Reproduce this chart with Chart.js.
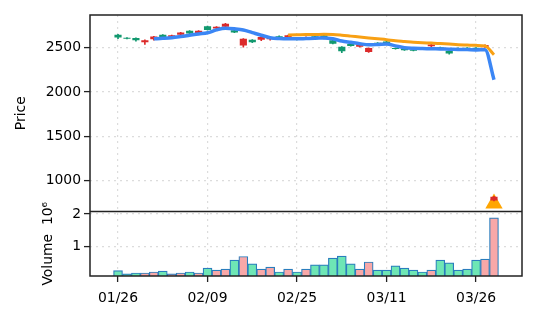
<!DOCTYPE html>
<html>
<head>
<meta charset="utf-8">
<script src="https://cdn.jsdelivr.net/npm/chart.js@4.4.1/dist/chart.umd.min.js"></script>
<style>
  html, body { margin: 0; padding: 0; background: #fff; }
</style>
</head>
<body>
<canvas id="chart" width="537" height="322"></canvas>
<script>
// daily OHLC, one entry per trading session
const opens  = [2615, 2600, 2585, 2585, 2625, 2610, 2640, 2670, 2660, 2690,
                2700, 2735, 2770, 2670, 2600, 2560, 2620, 2615, 2620, 2640,
                2590, 2620, 2595, 2600, 2545, 2460, 2520, 2535, 2495, 2535,
                2550, 2485, 2470, 2465, 2480, 2535, 2490, 2435, 2480, 2485,
                2470, 2530, 820];
const highs  = [2650, 2614, 2612, 2587, 2627, 2648, 2642, 2673, 2692, 2693,
                2742, 2738, 2774, 2697, 2602, 2592, 2622, 2617, 2632, 2643,
                2617, 2622, 2632, 2642, 2587, 2512, 2542, 2537, 2497, 2557,
                2572, 2497, 2487, 2480, 2497, 2537, 2507, 2463, 2497, 2502,
                2502, 2532, 825];
const lows   = [2600, 2598, 2572, 2538, 2585, 2608, 2618, 2643, 2658, 2662,
                2698, 2712, 2733, 2668, 2505, 2557, 2580, 2585, 2618, 2612,
                2588, 2597, 2592, 2598, 2542, 2445, 2518, 2507, 2447, 2532,
                2548, 2483, 2468, 2463, 2478, 2512, 2488, 2428, 2478, 2483,
                2468, 2502, 775];
const closes = [2645, 2612, 2610, 2560, 2595, 2645, 2620, 2645, 2690, 2665,
                2740, 2715, 2735, 2695, 2525, 2590, 2590, 2595, 2630, 2615,
                2615, 2600, 2630, 2640, 2585, 2510, 2540, 2510, 2450, 2555,
                2570, 2495, 2485, 2478, 2495, 2515, 2505, 2462, 2495, 2500,
                2500, 2505, 780];
const volumes = [250000, 150000, 180000, 180000, 210000, 240000, 150000, 180000, 210000, 180000,
                 330000, 270000, 300000, 580000, 690000, 460000, 300000, 360000, 210000, 300000,
                 210000, 300000, 430000, 430000, 640000, 700000, 460000, 300000, 520000, 270000,
                 270000, 400000, 330000, 270000, 210000, 270000, 580000, 490000, 270000, 300000,
                 580000, 610000, 1880000];

// moving averages (5 and 20 sessions)
const ma5  = [null, null, null, null, 2600, 2605, 2612, 2625, 2640, 2655,
              2668, 2700, 2718, 2712, 2700, 2670, 2640, 2612, 2603, 2600,
              2600, 2603, 2606, 2610, 2600, 2575, 2560, 2545, 2532, 2535,
              2540, 2520, 2500, 2493, 2490, 2488, 2485, 2483, 2480, 2478,
              2475, 2478, 2140];
const ma20 = [null, null, null, null, null, null, null, null, null, null,
              null, null, null, null, null, null, null, null, null, 2643,
              2645, 2647, 2648, 2650, 2648, 2640, 2630, 2620, 2610, 2600,
              2590, 2578, 2570, 2562, 2556, 2552, 2546, 2540, 2534, 2530,
              2526, 2520, 2420];

// signal marker
const signalIdx = 42;
const signalPrice = 745;

const tickPos = [0, 10, 20, 30, 40];
const tickLabels = ['01/26', '02/09', '02/25', '03/11', '03/26'];
const priceTicks = [1000, 1500, 2000, 2500];
const volTicks = [1000000, 2000000];

const UP = '#12996f', DOWN = '#dc2a2a';
const VOL_UP = '#6ee6b5', VOL_DOWN = '#f8a8a8';
const FONT = { family: 'DejaVu Sans', size: 13.9 };

const idx = closes.map((_, i) => i);
const candleColor = idx.map(i => closes[i] >= opens[i] ? UP : DOWN);
const volColor = idx.map(i => closes[i] >= opens[i] ? VOL_UP : VOL_DOWN);

// frame around both panels plus the divider between them
const panelFrame = {
    id: 'panelFrame',
    afterDraw(chart) {
        const { ctx, chartArea: a, scales } = chart;
        ctx.save();
        ctx.strokeStyle = '#222';
        ctx.lineWidth = 1.5;
        ctx.strokeRect(a.left, a.top, a.right - a.left, a.bottom - a.top);
        const yDiv = scales.y.bottom;
        ctx.beginPath();
        ctx.moveTo(a.left, yDiv);
        ctx.lineTo(a.right, yDiv);
        ctx.stroke();
        ctx.restore();
    }
};

const gridOpts = {
    color: '#dcdcdc',
    lineWidth: 1.2,
    tickColor: '#222',
    tickWidth: 1.3,
    tickLength: 6,
    tickBorderDash: []
};

new Chart(document.getElementById('chart'), {
    type: 'bar',
    data: {
        datasets: [
            {
                type: 'line',
                data: idx.map(i => ({ x: i, y: ma20[i] })),
                borderColor: '#f8a014',
                borderWidth: 3,
                pointRadius: 0,
                cubicInterpolationMode: 'monotone',
                yAxisID: 'y',
                order: 0
            },
            {
                type: 'line',
                data: idx.map(i => ({ x: i, y: ma5[i] })),
                borderColor: '#3b86f5',
                borderWidth: 3.5,
                pointRadius: 0,
                cubicInterpolationMode: 'monotone',
                yAxisID: 'y',
                order: 1
            },
            {
                // candle bodies
                data: idx.map(i => ({ x: i, y: [opens[i], closes[i]] })),
                backgroundColor: candleColor,
                barPercentage: 0.8,
                categoryPercentage: 1,
                grouped: false,
                yAxisID: 'y',
                order: 2
            },
            {
                // wicks
                data: idx.map(i => ({ x: i, y: [lows[i], highs[i]] })),
                backgroundColor: candleColor,
                barThickness: 1,
                grouped: false,
                yAxisID: 'y',
                order: 3
            },
            {
                type: 'scatter',
                data: [{ x: signalIdx, y: signalPrice }],
                pointStyle: 'triangle',
                pointRadius: 10,
                backgroundColor: '#ffa500',
                borderWidth: 0,
                yAxisID: 'y',
                order: 4
            },
            {
                data: idx.map(i => ({ x: i, y: volumes[i] })),
                backgroundColor: volColor,
                borderColor: '#2a7dbd',
                borderWidth: 1.2,
                barPercentage: 1,
                categoryPercentage: 1,
                grouped: false,
                yAxisID: 'y2',
                order: 5
            }
        ]
    },
    options: {
        responsive: false,
        animation: false,
        layout: { padding: { left: 0, right: 15, top: 15, bottom: 0 } },
        plugins: { legend: { display: false }, tooltip: { enabled: false } },
        scales: {
            x: {
                type: 'linear',
                min: -3.13,
                max: 45.13,
                offset: false,
                afterBuildTicks: s => { s.ticks = tickPos.map(v => ({ value: v })); },
                afterFit: s => { s.height = 46; },
                ticks: {
                    font: FONT, color: '#000', padding: 8, maxRotation: 0,
                    callback: v => tickLabels[tickPos.indexOf(v)]
                },
                grid: { ...gridOpts, offset: false },
                border: { display: false, dash: [2, 4] }
            },
            y: {
                type: 'linear',
                position: 'left',
                stack: 'panels',
                stackWeight: 3.045,
                weight: 2,
                min: 655,
                max: 2868,
                afterBuildTicks: s => { s.ticks = priceTicks.map(v => ({ value: v })); },
                afterFit: s => { s.width = 90; },
                ticks: { font: FONT, color: '#000', padding: 3, callback: v => String(v) },
                grid: gridOpts,
                border: { display: false, dash: [2, 4] },
                title: { display: true, text: 'Price', font: FONT, color: '#000', padding: { top: 13.5, bottom: 0 } }
            },
            y2: {
                type: 'linear',
                position: 'left',
                stack: 'panels',
                stackWeight: 1,
                weight: 1,
                min: 86000,
                max: 2080000,
                afterBuildTicks: s => { s.ticks = volTicks.map(v => ({ value: v })); },
                afterFit: s => { s.width = 90; },
                ticks: { font: FONT, color: '#000', padding: 3, callback: v => String(v / 1e6) },
                grid: gridOpts,
                border: { display: false, dash: [2, 4] },
                title: { display: true, text: 'Volume  10⁶', font: FONT, color: '#000', padding: { top: 40, bottom: 0 } }
            }
        }
    },
    plugins: [panelFrame]
});
</script>
</body>
</html>
